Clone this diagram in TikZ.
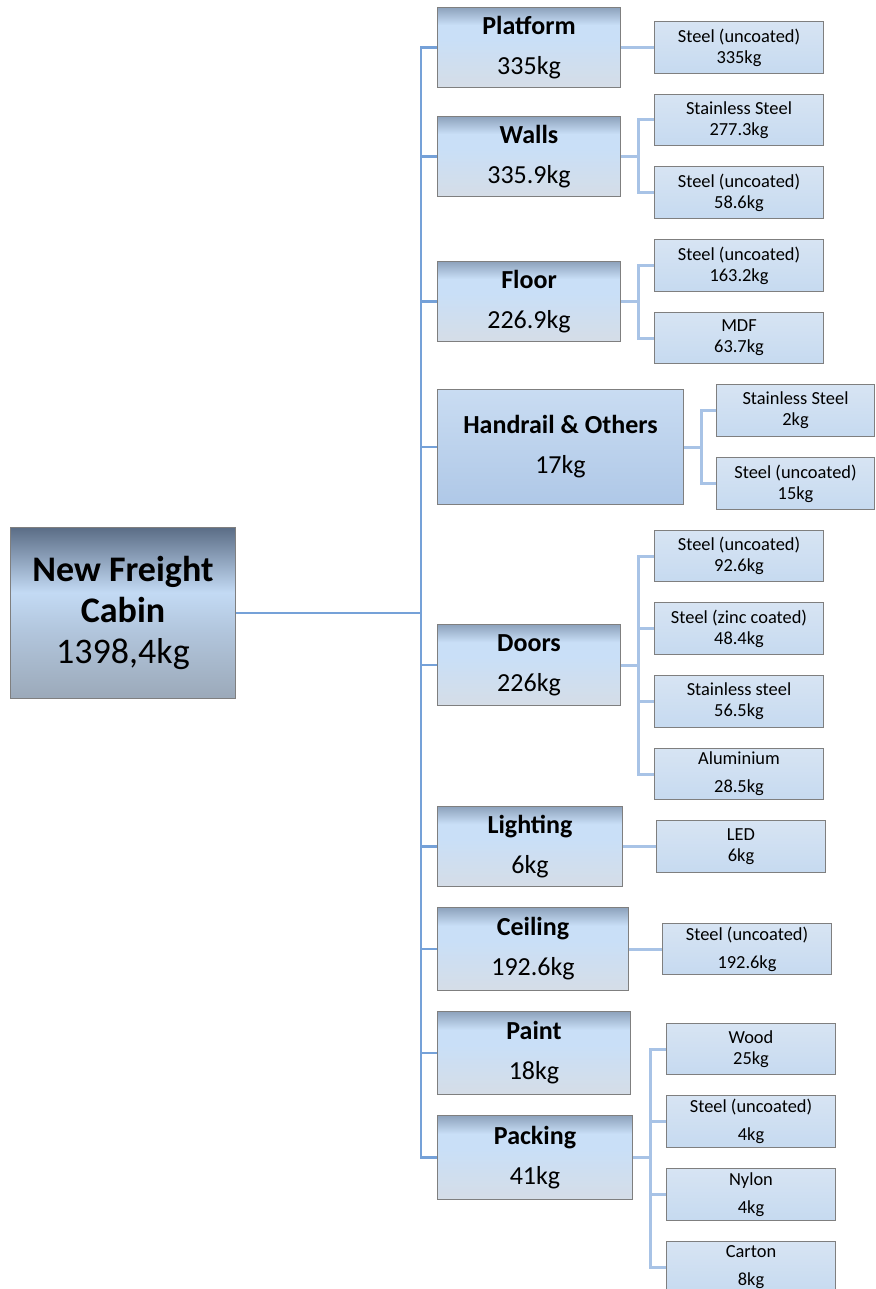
\documentclass[tikz,border=0pt]{standalone}
\usepackage{fontspec}
\setmainfont{Carlito}
\usepackage{tikz}

\definecolor{boxgrey}{HTML}{7F7F7F}
\definecolor{rtop}{HTML}{5B6D86}
\definecolor{rlow}{HTML}{B2C6DD}
\definecolor{rmid}{HTML}{C3DAF4}
\definecolor{rbot}{HTML}{9BA9B9}
\definecolor{ctop}{HTML}{8DA2BC}
\definecolor{cmid}{HTML}{C9DFF7}
\definecolor{cbot}{HTML}{D5DDE7}
\definecolor{leaftop}{HTML}{D7E4F3}
\definecolor{leafbot}{HTML}{C6DAF0}
\definecolor{handtop}{HTML}{C9DCF2}
\definecolor{handbot}{HTML}{AFC8E7}
\definecolor{trunkblue}{HTML}{75A1D8}
\definecolor{branchblue}{HTML}{A8C3E6}

\pgfdeclareverticalshading{rootshade}{100bp}{color(0bp)=(rbot); color(25bp)=(rbot); color(45bp)=(rlow); color(56bp)=(rmid); color(75bp)=(rtop); color(100bp)=(rtop)}
\pgfdeclareverticalshading{catshade}{100bp}{color(0bp)=(cbot); color(25bp)=(cbot); color(55bp)=(cmid); color(64bp)=(cmid); color(75bp)=(ctop); color(100bp)=(ctop)}

\tikzset{
  rootbox/.style={draw=boxgrey, line width=1pt, shade, shading=rootshade, anchor=north west, inner sep=0pt, align=center, font=\fontsize{36}{41}\selectfont},
  catbox/.style={draw=boxgrey, line width=1pt, shade, shading=catshade, anchor=north west, inner sep=0pt, align=center, font=\fontsize{26}{40}\selectfont},
  handbox/.style={catbox, top color=handtop, bottom color=handbot},
  leafbox/.style={draw=boxgrey, line width=1pt, top color=leaftop, bottom color=leafbot, anchor=north west, inner sep=0pt, minimum width=169pt, minimum height=52pt, align=center, font=\fontsize{18.4}{21}\selectfont},
  loose/.style={font=\fontsize{18.4}{28}\selectfont},
  trunk/.style={draw=trunkblue, line width=2.2pt},
  branch/.style={draw=branchblue, line width=3pt},
}

\begin{document}
\begin{tikzpicture}[x=1pt,y=-1pt]
\clip (0,0) rectangle (875,1289);

% root
\node[rootbox, minimum width=225pt, minimum height=171pt] (root) at (10,527) {\bfseries New Freight\\\bfseries Cabin\\1398,4kg};

% parts
\node[catbox, minimum width=183pt, minimum height=80pt] (platform) at (437,7) {\bfseries Platform\\335kg};
\node[catbox, minimum width=183pt, minimum height=80pt] (walls) at (437,116) {\bfseries Walls\\335.9kg};
\node[catbox, minimum width=183pt, minimum height=80pt] (floor) at (437,261) {\bfseries Floor\\226.9kg};
\node[handbox, minimum width=246pt, minimum height=115pt] (handrail) at (437,389) {\bfseries Handrail \& Others\\17kg};
\node[catbox, minimum width=183pt, minimum height=81pt] (doors) at (437,624) {\bfseries Doors\\226kg};
\node[catbox, minimum width=185pt, minimum height=80pt] (lighting) at (437,806) {\bfseries Lighting\\6kg};
\node[catbox, minimum width=191pt, minimum height=83pt] (ceiling) at (437,907) {\bfseries Ceiling\\192.6kg};
\node[catbox, minimum width=193pt, minimum height=83pt] (paint) at (437,1011) {\bfseries Paint\\18kg};
\node[catbox, minimum width=195pt, minimum height=84pt] (packing) at (437,1115) {\bfseries Packing\\41kg};

% materials
\node[leafbox] (platformA) at (654,21) {Steel (uncoated)\\335kg};
\node[leafbox, minimum height=51pt] (wallsA) at (654,94) {Stainless Steel\\277.3kg};
\node[leafbox] (wallsB) at (654,166) {Steel (uncoated)\\58.6kg};
\node[leafbox] (floorA) at (654,239) {Steel (uncoated)\\163.2kg};
\node[leafbox, minimum height=51pt] (floorB) at (654,312) {MDF\\63.7kg};
\node[leafbox, minimum width=158pt] (handrailA) at (716,384) {Stainless Steel\\2kg};
\node[leafbox, minimum width=158pt] (handrailB) at (716,457) {Steel (uncoated)\\15kg};
\node[leafbox, minimum height=51pt] (doorsA) at (654,530) {Steel (uncoated)\\92.6kg};
\node[leafbox] (doorsB) at (654,602) {Steel (zinc coated)\\48.4kg};
\node[leafbox] (doorsC) at (654,675) {Stainless steel\\56.5kg};
\node[leafbox, loose, minimum height=51pt] (doorsD) at (654,748) {Aluminium\\28.5kg};
\node[leafbox] (lightingA) at (656,820) {LED\\6kg};
\node[leafbox, loose, minimum height=51pt] (ceilingA) at (662,923) {Steel (uncoated)\\192.6kg};
\node[leafbox, minimum height=51pt] (packingA) at (666,1023) {Wood\\25kg};
\node[leafbox, loose] (packingB) at (666,1095) {Steel (uncoated)\\4kg};
\node[leafbox, loose] (packingC) at (666,1168) {Nylon\\4kg};
\node[leafbox, loose] (packingD) at (666,1241) {Carton\\8kg};

% connectors
\draw[trunk] (root.east) -- ++(185,0) coordinate (spine);
\foreach \c in {platform,walls,floor,handrail,doors,lighting,ceiling,paint,packing}
  \draw[trunk] (spine) |- (\c.west);
\foreach \c/\l in {platform/platformA, walls/wallsA, walls/wallsB, floor/floorA, floor/floorB,
    handrail/handrailA, handrail/handrailB, doors/doorsA, doors/doorsB, doors/doorsC, doors/doorsD,
    lighting/lightingA, ceiling/ceilingA, packing/packingA, packing/packingB, packing/packingC, packing/packingD}
  \draw[branch] (\c.east) -- ++(17,0) |- (\l.west);
\end{tikzpicture}
\end{document}
